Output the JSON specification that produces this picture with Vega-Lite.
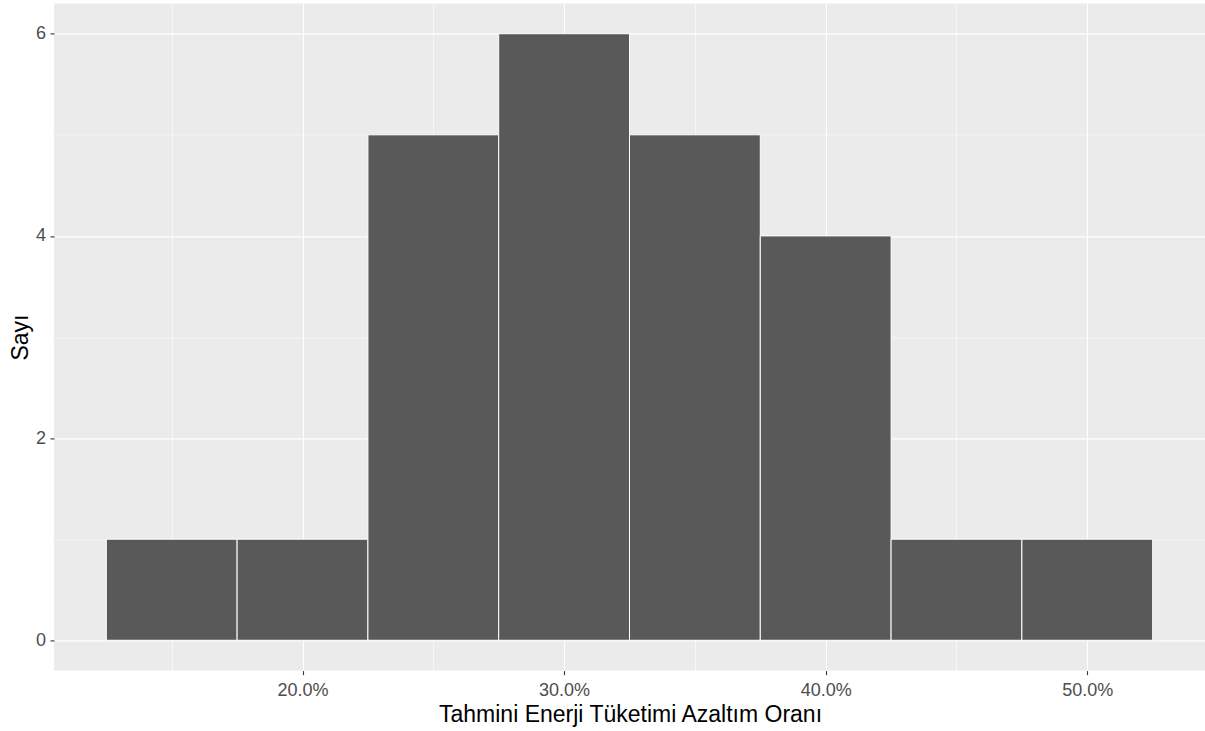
{
  "$schema": "https://vega.github.io/schema/vega-lite/v6.json",
  "width": 1151,
  "height": 667.2,
  "autosize": {"type": "none"},
  "padding": {"left": 54, "top": 3.4, "right": 0, "bottom": 60.4},
  "background": "white",
  "config": {
    "view": {"fill": "#EBEBEB", "stroke": null},
    "font": "Liberation Sans"
  },
  "data": {
    "values": [
      {"bin_start": 0.125, "bin_end": 0.175, "count": 1},
      {"bin_start": 0.175, "bin_end": 0.225, "count": 1},
      {"bin_start": 0.225, "bin_end": 0.275, "count": 5},
      {"bin_start": 0.275, "bin_end": 0.325, "count": 6},
      {"bin_start": 0.325, "bin_end": 0.375, "count": 5},
      {"bin_start": 0.375, "bin_end": 0.425, "count": 4},
      {"bin_start": 0.425, "bin_end": 0.475, "count": 1},
      {"bin_start": 0.475, "bin_end": 0.525, "count": 1}
    ]
  },
  "mark": {"type": "rect", "fill": "#595959", "stroke": "white", "strokeWidth": 1},
  "encoding": {
    "x": {
      "field": "bin_start",
      "type": "quantitative",
      "scale": {"domain": [0.105, 0.545], "nice": false, "zero": false},
      "axis": {
        "values": [0.15, 0.2, 0.25, 0.3, 0.35, 0.4, 0.45, 0.5],
        "format": ".1%",
        "labelExpr": "round(datum.value*100)%10==0 ? datum.label : ''",
        "title": "Tahmini Enerji Tüketimi Azaltım Oranı",
        "grid": true,
        "gridColor": "white",
        "gridWidth": {"condition": {"test": "round(datum.value*100)%10==0", "value": 1.1}, "value": 0.55},
        "domain": false,
        "tickColor": "#333333",
        "tickSize": 4,
        "tickWidth": 1.1,
        "tickOpacity": {"condition": {"test": "round(datum.value*100)%10==0", "value": 1}, "value": 0},
        "labelColor": "#4D4D4D",
        "labelFontSize": 18,
        "labelBaseline": "alphabetic",
        "labelPadding": 21,
        "labelFlush": false,
        "labelOverlap": false,
        "titleFontSize": 23,
        "titleColor": "black",
        "titleFontWeight": "normal",
        "titleBaseline": "alphabetic",
        "titleY": 51,
        "titleX": 576
      }
    },
    "x2": {"field": "bin_end"},
    "y": {
      "field": "count",
      "type": "quantitative",
      "scale": {"domain": [-0.3, 6.3], "nice": false, "zero": false},
      "axis": {
        "values": [0, 1, 2, 3, 4, 5, 6],
        "labelExpr": "datum.value%2==0 ? datum.label : ''",
        "title": "Sayı",
        "grid": true,
        "gridColor": "white",
        "gridWidth": {"condition": {"test": "datum.value%2==0", "value": 1.1}, "value": 0.55},
        "domain": false,
        "tickColor": "#333333",
        "tickSize": 4,
        "tickWidth": 1.1,
        "tickOpacity": {"condition": {"test": "datum.value%2==0", "value": 1}, "value": 0},
        "labelColor": "#4D4D4D",
        "labelFontSize": 18,
        "labelPadding": 4.5,
        "labelFlush": false,
        "labelOverlap": false,
        "titleFontSize": 23,
        "titleColor": "black",
        "titleFontWeight": "normal",
        "titleBaseline": "alphabetic",
        "titleAngle": 270,
        "titleAlign": "center",
        "titleX": -26.7,
        "titleY": 333.6
      }
    },
    "y2": {"datum": 0}
  }
}
